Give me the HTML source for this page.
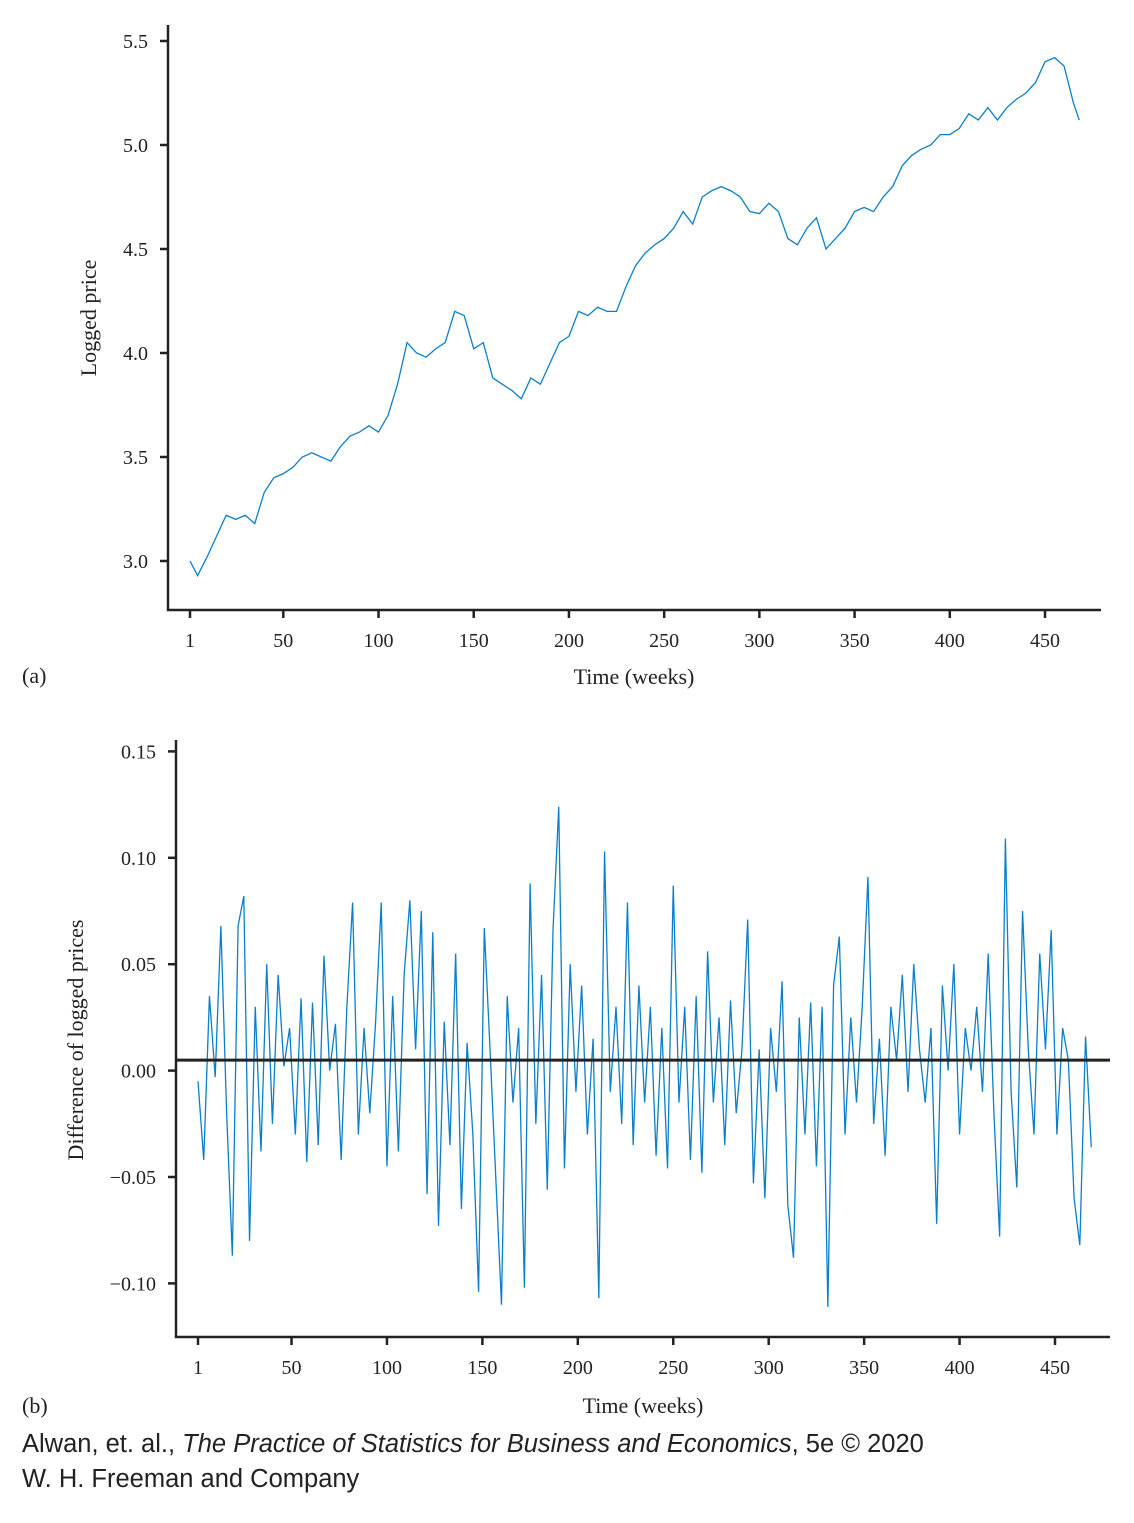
<!DOCTYPE html>
<html><head><meta charset="utf-8"><style>
body{margin:0;background:#fff;width:1134px;height:1518px;overflow:hidden}
svg text{font-family:"Liberation Serif",serif;fill:#222}
</style></head><body>
<svg width="1134" height="1518" viewBox="0 0 1134 1518">
<g id="ca"></g>
<g id="cb"></g>
<text x="22" y="683" font-size="22">(a)</text>
<text x="22" y="1413" font-size="22">(b)</text>
<text x="22" y="1452" font-size="25.5" style="font-family:'Liberation Sans',sans-serif">Alwan, et. al., <tspan font-style="italic">The Practice of Statistics for Business and Economics</tspan>, 5e © 2020</text>
<text x="22" y="1487" font-size="25.5" style="font-family:'Liberation Sans',sans-serif">W. H. Freeman and Company</text>
</svg>
<script>
const weeksA=[1,5,10,15,20,25,30,35,40,45,50,55,60,65,70,75,80,85,90,95,100,105,110,115,120,125,130,135,140,145,150,155,160,165,170,175,180,185,190,195,200,205,210,215,220,225,230,235,240,245,250,255,260,265,270,275,280,285,290,295,300,305,310,315,320,325,330,335,340,345,350,355,360,365,370,375,380,385,390,395,400,405,410,415,420,425,430,435,440,445,450,455,460,465,468];
const pricesA=[3.00,2.93,3.02,3.12,3.22,3.20,3.22,3.18,3.33,3.40,3.42,3.45,3.50,3.52,3.50,3.48,3.55,3.60,3.62,3.65,3.62,3.70,3.85,4.05,4.00,3.98,4.02,4.05,4.20,4.18,4.02,4.05,3.88,3.85,3.82,3.78,3.88,3.85,3.95,4.05,4.08,4.20,4.18,4.22,4.20,4.20,4.32,4.42,4.48,4.52,4.55,4.60,4.68,4.62,4.75,4.78,4.80,4.78,4.75,4.68,4.67,4.72,4.68,4.55,4.52,4.60,4.65,4.50,4.55,4.60,4.68,4.70,4.68,4.75,4.80,4.90,4.95,4.98,5.00,5.05,5.05,5.08,5.15,5.12,5.18,5.12,5.18,5.22,5.25,5.30,5.40,5.42,5.38,5.20,5.12];
const xTicks=[1,50,100,150,200,250,300,350,400,450];
const yTicksA=[3.0,3.5,4.0,4.5,5.0,5.5];
const yTicksB=[-0.10,-0.05,0.00,0.05,0.10,0.15];
const diffsB=[-0.5,-4.2,3.5,-0.3,6.8,-2,-8.7,6.8,8.2,-8.0,3,-3.8,5,-2.5,4.5,0.2,2,-3,3.4,-4.3,3.2,-3.5,5.4,0,2.2,-4.2,3,7.9,-3,2,-2,2.2,7.9,-4.5,3.5,-3.8,4.5,8,1,7.5,-5.8,6.5,-7.3,2.3,-3.5,5.5,-6.5,1.3,-3,-10.4,6.7,1,-5,-11,3.5,-1.5,2,-10.2,8.8,-2.5,4.5,-5.6,6.6,12.4,-4.6,5,-1,4,-3,1.5,-10.7,10.3,-1,3,-2.5,7.9,-3.5,4,-1.5,3,-4,2,-4.6,8.7,-1.5,3,-4.2,3.5,-4.8,5.6,-1.5,2.5,-3.5,3.3,-2,1,7.1,-5.3,1,-6,2,-1,4.2,-6.3,-8.8,2.5,-3,3.2,-4.5,3,-11.1,4,6.3,-3,2.5,-1.5,3,9.1,-2.5,1.5,-4,3,0.5,4.5,-1,5,1,-1.5,2,-7.2,4,0,5,-3,2,0,3,-1,5.5,-2,-7.8,10.9,-1,-5.5,7.5,1,-3,5.5,1,6.6,-3,2,0.5,-6,-8.2,1.6,-3.6];
const meanB=0.0049;
const NS='http://www.w3.org/2000/svg';
function mk(p,tag,at){const e=document.createElementNS(NS,tag);for(const k in at)e.setAttribute(k,at[k]);p.appendChild(e);return e;}
function axes(g,o){
  const ax=mk(g,'path',{d:`M${o.L} ${o.T}V${o.B}H${o.R}`,fill:'none',stroke:'#222','stroke-width':2.5});
  
  
  xTicks.forEach(t=>{const x=o.sx(t);
    const tk=mk(g,'line',{x1:x,x2:x,y1:o.B,y2:o.B+8,stroke:'#222','stroke-width':2.5});
    
    
    const tl=mk(g,'text',{x:x,y:o.B+37,'font-size':20,'text-anchor':'middle'});tl.textContent=t;
    
    });
  o.yt.forEach(v=>{const y=o.sy(v);
    const tk=mk(g,'line',{x1:o.L-8,x2:o.L,y1:y,y2:y,stroke:'#222','stroke-width':2.5});
    
    
    const tl=mk(g,'text',{x:o.L-20,y:y+7,'font-size':20,'text-anchor':'end'});tl.textContent=o.fmt(v);
    
    });
  const xl=mk(g,'text',{x:o.xlx,y:o.xly,'font-size':22,'text-anchor':'middle'});xl.textContent='Time (weeks)';
  
  
  const yl=mk(g,'text',{x:0,y:0,'font-size':22,'text-anchor':'middle',transform:`translate(${o.ylx},${o.yly}) rotate(-90)`});yl.textContent=o.yl;
  
  
}
const ga=document.getElementById('ca');
const sxA=t=>190+(t-1)*(1045-190)/449, syA=v=>561-(v-3.0)*(561-41)/2.5;
axes(ga,{L:168,T:25,B:610,R:1101,sx:sxA,sy:syA,yt:yTicksA,fmt:v=>v.toFixed(1),xlx:634,xly:684,ylx:96,yly:318,yl:'Logged price'});
const la=mk(ga,'polyline',{points:weeksA.map((w,i)=>sxA(w)+','+syA(pricesA[i])).join(' '),fill:'none',stroke:'#0a7fcb','stroke-width':1.3});


const gb=document.getElementById('cb');
const sxB=t=>198+(t-1)*(1055-198)/449, syB=v=>1070.6-v*2128;
axes(gb,{L:176,T:740,B:1337,R:1110,sx:sxB,sy:syB,yt:yTicksB,fmt:v=>(v<0?'\u2212':'')+Math.abs(v).toFixed(2),xlx:643,xly:1413,ylx:83,yly:1040,yl:'Difference of logged prices'});
const lb=mk(gb,'polyline',{points:diffsB.map((d,i)=>sxB(1+3*i)+','+syB(d/100)).join(' '),fill:'none',stroke:'#0a7fcb','stroke-width':1.3});


const ml=mk(gb,'line',{x1:176,x2:1110,y1:syB(meanB),y2:syB(meanB),stroke:'#222','stroke-width':3});


</script>
</body></html>
